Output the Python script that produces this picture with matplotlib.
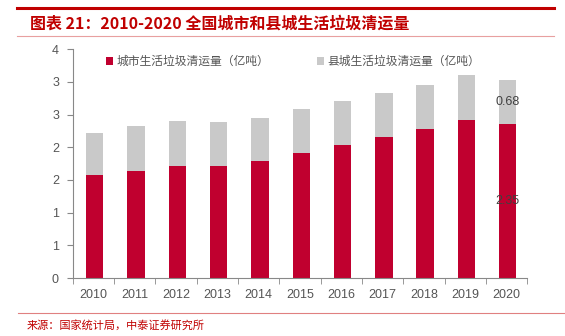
import matplotlib
matplotlib.use("Agg")
import matplotlib.pyplot as plt
import numpy as np
from matplotlib.lines import Line2D

plt.rcParams['font.family'] = ['Noto Sans CJK SC', 'DejaVu Sans']

years = ['2010', '2011', '2012', '2013', '2014', '2015', '2016', '2017', '2018', '2019', '2020']
city = [1.58, 1.64, 1.71, 1.72, 1.79, 1.91, 2.03, 2.15, 2.28, 2.42, 2.35]
county = [0.64, 0.68, 0.69, 0.66, 0.66, 0.67, 0.68, 0.68, 0.67, 0.69, 0.68]
yticks = [0, 0.5, 1, 1.5, 2, 2.5, 3, 3.5]
ytick_labels = ['0', '1', '1', '2', '2', '3', '3', '4']

red = '#C0002F'
grey = '#C9C9C9'

fig = plt.figure(figsize=(5.65, 3.36), dpi=100)
ax = fig.add_axes([0.129, 0.172, 0.804, 0.682])

x = np.arange(len(years))
ax.bar(x + 0.03, city, width=0.42, color=red, label='城市生活垃圾清运量（亿吨）')
ax.bar(x + 0.03, county, width=0.42, bottom=city, color=grey, label='县城生活垃圾清运量（亿吨）')

# labels only on the last bar
ax.text(x[-1] + 0.03, city[-1] + county[-1] / 2, f'{county[-1]:.2f}', ha='center', va='center',
        fontsize=9, color='#404040', family='Liberation Sans')
ax.text(x[-1] + 0.03, city[-1] / 2, f'{city[-1]:.2f}', ha='center', va='center',
        fontsize=9, color='#404040', family='Liberation Sans')

ax.set_xlim(-0.5, len(years) - 0.5)
ax.set_ylim(0, 3.5)
ax.set_yticks(yticks)
ax.set_yticklabels(ytick_labels, family='Liberation Sans', fontsize=9, color='#555555')
ax.set_xticks(x)
ax.set_xticklabels(years, family='Liberation Sans', fontsize=9, color='#555555')
ax.tick_params(axis='x', length=0, pad=8)
ax.set_xticks(np.arange(-0.5, len(years)), minor=True)
ax.tick_params(axis='x', which='minor', length=4, color='#888888')
ax.tick_params(axis='y', length=4, color='#888888', pad=6)

for s in ['top', 'right']:
    ax.spines[s].set_visible(False)
for s in ['left', 'bottom']:
    ax.spines[s].set_color('#888888')
    ax.spines[s].set_linewidth(0.8)

leg = ax.legend(loc='upper left', bbox_to_anchor=(0.05, 1.02), ncol=2, frameon=False,
                fontsize=8.5, handlelength=0.6, handleheight=0.6, handletextpad=0.3,
                columnspacing=4.0)
for t in leg.get_texts():
    t.set_color('#555555')

# title block
fig.add_artist(Line2D([0.03, 0.98], [0.975, 0.975], color='#C00000', lw=2.2))
fig.text(0.053, 0.93, '图表 21：2010-2020 全国城市和县城生活垃圾清运量', color='#C00000',
         fontsize=11.5, fontweight='bold', va='center', style='italic')
fig.add_artist(Line2D([0.03, 0.98], [0.893, 0.893], color='#E8A0A0', lw=0.8))

# source
fig.add_artist(Line2D([0.032, 1.0], [0.068, 0.068], color='#E08080', lw=0.8))
fig.text(0.048, 0.032, '来源：国家统计局，中泰证券研究所', color='#C00000', fontsize=8, va='center')

fig.savefig('out.png', dpi=100)
